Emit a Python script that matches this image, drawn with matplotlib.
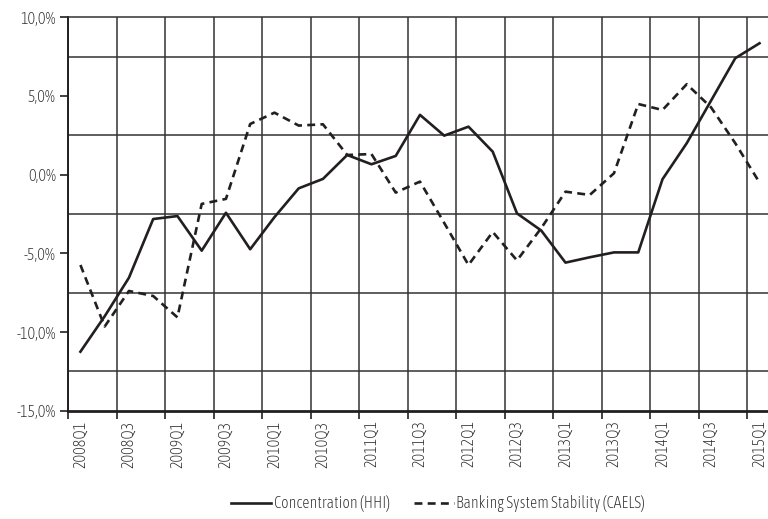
import matplotlib.pyplot as plt
import numpy as np

plt.rcParams['font.family'] = ['Asap Condensed', 'Barlow Condensed', 'DejaVu Sans']
plt.rcParams['font.weight'] = 'light'

quarters = [f"{y}Q{q}" for y in range(2008, 2016) for q in range(1, 5)][:29]

hhi = [-11.25, -9.0, -6.55, -2.82, -2.63, -4.83, -2.42, -4.74, -2.7, -0.87,
       -0.27, 1.25, 0.66, 1.19, 3.8, 2.48, 3.05, 1.46, -2.46, -3.55,
       -5.59, -5.25, -4.94, -4.94, -0.29, 2.0, 4.7, 7.4, 8.35]

caels = [-5.74, -9.65, -7.39, -7.71, -9.07, -1.86, -1.54, 3.22, 3.94, 3.12,
         3.2, 1.25, 1.31, -1.14, -0.44, -3.07, -5.74, -3.64, -5.45, -3.4,
         -1.08, -1.29, 0.09, 4.49, 4.11, 5.75, 4.28, 2.0, -0.5]

ink = '#231f20'
txt = '#2b2b2b'
fs = 11.5

fig = plt.figure(figsize=(7.68, 5.19), dpi=100)
ax = fig.add_axes([68.3 / 768, 1 - 410.7 / 519, (768 - 68.3) / 768, (410.7 - 17.3) / 519])

x = np.arange(len(quarters))
ax.plot(x, hhi, color=ink, lw=1.9, label='Concentration (HHI)', zorder=3)
ax.plot(x, caels, color=ink, lw=1.9, ls=(0, (3.0, 2.0)), label='Banking System Stability (CAELS)', zorder=3)

ax.set_xlim(-0.5, 28.35)
ax.set_ylim(-15, 10)

# x axis: labels on every other quarter, grid between categories
ax.set_xticks(x[::2])
ax.set_xticklabels(quarters[::2], rotation=90, fontsize=fs, color=txt)
ax.set_xticks(np.arange(-0.5, 28, 2), minor=True)
ax.tick_params(axis='x', which='major', length=0, pad=7)
ax.tick_params(axis='x', which='minor', length=6, width=1.2, color=ink)

yt = np.arange(-15, 10.1, 5)
ax.set_yticks(yt)
ax.set_yticklabels([f"{v:.1f}%".replace('.', ',') for v in yt], fontsize=fs, color=txt)
ax.set_yticks(np.arange(-15, 10.1, 2.5), minor=True)
ax.tick_params(axis='y', which='major', length=6, width=1.2, color=ink, pad=3)
ax.tick_params(axis='y', which='minor', length=0)

ax.grid(True, which='minor', color='#333333', lw=1.1)
ax.set_axisbelow(True)

ax.spines['right'].set_visible(False)
ax.spines['top'].set_color('#333333')
ax.spines['top'].set_linewidth(1.1)
ax.spines['left'].set_color(ink)
ax.spines['left'].set_linewidth(1.4)
ax.spines['bottom'].set_color(ink)
ax.spines['bottom'].set_linewidth(2.0)

fig.legend(loc='center', bbox_to_anchor=(438 / 768, 1 - 504 / 519), ncol=2, frameon=False,
           prop={'size': fs, 'weight': 'light'}, handlelength=2.5, handletextpad=0.15,
           columnspacing=1.5, labelcolor=txt)

fig.savefig('out.png', dpi=100)
